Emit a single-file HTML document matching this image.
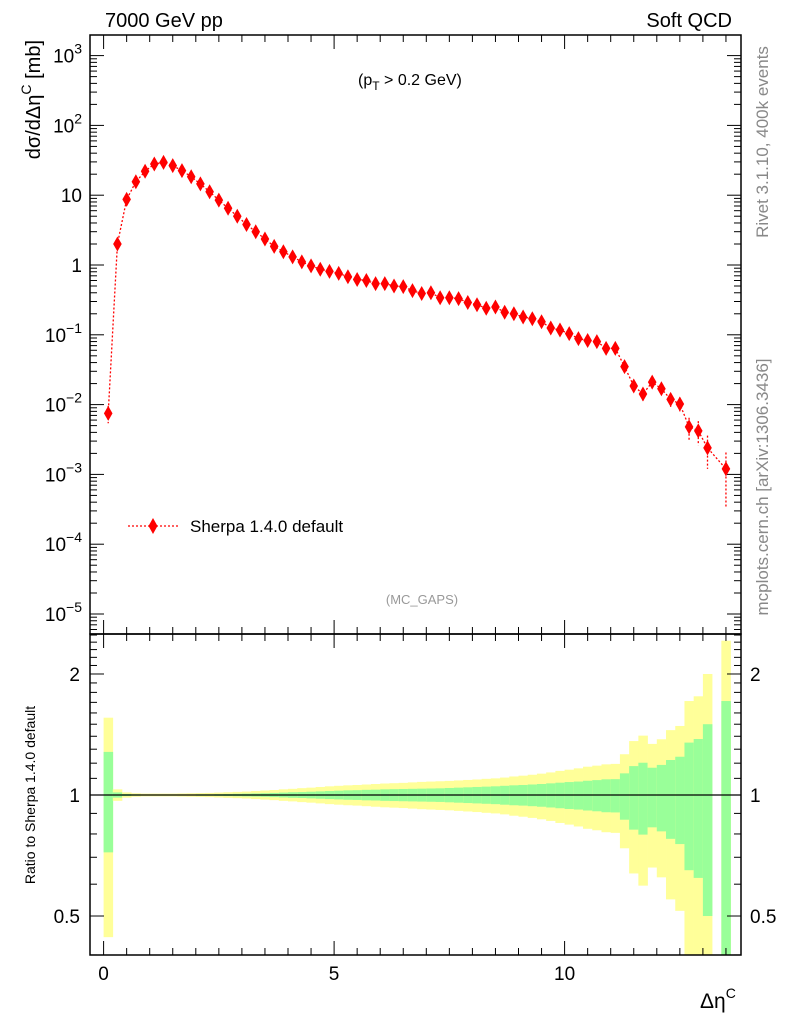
<!DOCTYPE html>
<html><head><meta charset="utf-8"><style>
body{margin:0;background:#fff;}
svg{display:block;font-family:"Liberation Sans",sans-serif;}
</style></head><body>
<svg id="c" width="786" height="1024" viewBox="0 0 786 1024"></svg>
<script>
const centers = [0.1,0.3,0.5,0.7,0.9,1.1,1.3,1.5,1.7,1.9,2.1,2.3,2.5,2.7,2.9,3.1,3.3,3.5,3.7,3.9,4.1,4.3,4.5,4.7,4.9,5.1,5.3,5.5,5.7,5.9,6.1,6.3,6.5,6.7,6.9,7.1,7.3,7.5,7.7,7.9,8.1,8.3,8.5,8.7,8.9,9.1,9.3,9.5,9.7,9.9,10.1,10.3,10.5,10.7,10.9,11.1,11.3,11.5,11.7,11.9,12.1,12.3,12.5,12.7,12.9,13.1,13.3,13.5];
const sherpaValues = [0.0075,2.0,8.7,15.6,22,28,29.5,26.5,22.5,18.4,14.5,11.2,8.5,6.5,5.0,3.8,3.0,2.36,1.85,1.55,1.31,1.11,0.97,0.87,0.81,0.76,0.68,0.62,0.60,0.54,0.54,0.50,0.49,0.43,0.39,0.40,0.34,0.34,0.33,0.29,0.27,0.24,0.25,0.21,0.20,0.18,0.17,0.154,0.125,0.117,0.104,0.088,0.083,0.080,0.064,0.064,0.035,0.0185,0.0142,0.021,0.0169,0.0119,0.0102,0.0048,0.0042,0.0024,null,0.0012];
const statRelErr = [0.28,0.015,0.006,0.004,0.003,0.003,0.003,0.003,0.003,0.003,0.004,0.004,0.005,0.006,0.007,0.008,0.009,0.010,0.012,0.014,0.016,0.017,0.019,0.021,0.023,0.025,0.027,0.028,0.030,0.031,0.033,0.034,0.035,0.036,0.037,0.038,0.039,0.041,0.043,0.045,0.047,0.049,0.051,0.054,0.057,0.059,0.062,0.065,0.069,0.073,0.077,0.080,0.085,0.089,0.094,0.095,0.132,0.18,0.203,0.169,0.188,0.222,0.245,0.35,0.378,0.5,null,0.713];
const totRelErr = [0.557,0.033,0.015,0.010,0.008,0.008,0.008,0.008,0.009,0.010,0.011,0.012,0.014,0.016,0.018,0.020,0.023,0.026,0.029,0.033,0.036,0.040,0.043,0.047,0.051,0.054,0.057,0.059,0.062,0.065,0.068,0.070,0.072,0.075,0.078,0.080,0.082,0.084,0.087,0.090,0.093,0.097,0.100,0.105,0.112,0.117,0.123,0.130,0.138,0.148,0.156,0.165,0.176,0.183,0.192,0.195,0.263,0.362,0.405,0.34,0.376,0.45,0.485,0.713,0.76,1.0,null,1.42];
const xTicks = [0,5,10];
const yTickExps = [-5,-4,-3,-2,-1,0,1,2,3];
const ratioTicks = [0.5,1,2];

const svg=document.getElementById('c');
const NS='http://www.w3.org/2000/svg';
function mk(tag,attrs,parent){const e=document.createElementNS(NS,tag);for(const k in attrs)e.setAttribute(k,attrs[k]);(parent||svg).appendChild(e);return e;}
const L=90,R=741,T=35,M=634,B=955;
const x=v=>103.6+46.1*v;
const y=v=>265-69.8*Math.log10(v);
const yr=r=>795-402*Math.log10(r);
const clampR=v=>Math.max(M,Math.min(B,v));
const half=0.1;

const gBands=mk('g',{});


centers.forEach((c,i)=>{
  if(totRelErr[i]==null)return;
  const x0=x(c-half),x1=x(c+half);
  const t=totRelErr[i],s=statRelErr[i];
  const ytop=clampR(yr(1+t)),ybot=(1-t)>0?clampR(yr(1-t)):B;
  const r1=mk('rect',{x:x0,y:ytop,width:x1-x0+0.3,height:ybot-ytop,fill:'#ffff99'},gBands);
  
  
  const stop=clampR(yr(1+s)),sbot=(1-s)>0?clampR(yr(1-s)):B;
  const r2=mk('rect',{x:x0,y:stop,width:x1-x0+0.3,height:sbot-stop,fill:'#99ff99'},gBands);
  
  
});
const ref=mk('line',{x1:L,x2:R,y1:yr(1),y2:yr(1),stroke:'#000','stroke-width':1.2});



[[T,M,'main-plot-frame'],[M,B,'ratio-plot-frame']].forEach(([a,b,n])=>{
  const f=mk('rect',{x:L,y:a,width:R-L,height:b-a,fill:'none',stroke:'#000','stroke-width':1.5});
  
});

const gx=mk('g',{stroke:'#000','stroke-width':1});

for(let v=0;v<=13.5;v+=0.5){
  const big=(v%5===0), len=big?14:7;
  [[T,1],[M,-1],[M,1],[B,-1]].forEach(([yy,d])=>mk('line',{x1:x(v),x2:x(v),y1:yy,y2:yy+d*len},gx));
}
xTicks.forEach(v=>{const t=mk('text',{x:x(v),y:980,'font-size':19,'text-anchor':'middle'});t.textContent=v;
  });

const gy=mk('g',{stroke:'#000','stroke-width':1});

for(let e=-6;e<=3;e++){for(let k=1;k<10;k++){const v=k*Math.pow(10,e);const yy=y(v);if(yy<T||yy>M)continue;
  const len=k===1?14:7;mk('line',{x1:L,x2:L+len,y1:yy,y2:yy},gy);mk('line',{x1:R,x2:R-len,y1:yy,y2:yy},gy);}}
yTickExps.forEach(e=>{
  const t=mk('text',{x:82,y:y(Math.pow(10,e))+7,'font-size':19,'text-anchor':'end'});
  
  if(e===0)t.textContent='1';else if(e===1)t.textContent='10';
  else{t.textContent='10';const s=mk('tspan',{dy:-9,'font-size':14},t);s.textContent=(e<0?'\u2212':'')+Math.abs(e);}
});

for(let v=0.4;v<=2.51;v+=0.1){const yy=yr(v);if(yy<M||yy>B)continue;const big=ratioTicks.some(r=>Math.abs(r-v)<1e-6);const len=big?14:7;
  mk('line',{x1:L,x2:L+len,y1:yy,y2:yy},gy);mk('line',{x1:R,x2:R-len,y1:yy,y2:yy},gy);}
ratioTicks.forEach(v=>{
  const t1=mk('text',{x:80,y:yr(v)+7,'font-size':19,'text-anchor':'end'});t1.textContent=v;
  
  const t2=mk('text',{x:750,y:yr(v)+7,'font-size':19,'text-anchor':'start'});t2.textContent=v;
  
});

const gs=mk('g',{});

let pts=[];centers.forEach((c,i)=>{if(sherpaValues[i]!=null)pts.push(x(c)+','+y(sherpaValues[i]));});
const pl=mk('polyline',{points:pts.join(' '),fill:'none',stroke:'#ff0000','stroke-width':1.3,'stroke-dasharray':'2,2'},gs);

centers.forEach((c,i)=>{
  const v=sherpaValues[i];if(v==null)return;
  const cx=x(c),cy=y(v),s=statRelErr[i];
  const ylo=(1-s)>0?y(v*(1-s)):M, yhi=y(v*(1+s));
  if(ylo-yhi>10){const eb=mk('line',{x1:cx,x2:cx,y1:yhi,y2:Math.min(ylo,M),stroke:'#ff0000','stroke-width':1.3,'stroke-dasharray':'2,2'},gs);
    }
  const d=mk('polygon',{points:`${cx},${cy-7.5} ${cx+4.3},${cy} ${cx},${cy+7.5} ${cx-4.3},${cy}`,fill:'#ff0000'},gs);
  
});

const lg=mk('g',{});

mk('line',{x1:128,x2:180,y1:526,y2:526,stroke:'#ff0000','stroke-width':1.3,'stroke-dasharray':'2,2'},lg);
mk('polygon',{points:'153,518 157.5,526 153,534 148.5,526',fill:'#ff0000'},lg);
const lt=mk('text',{x:190,y:532,'font-size':17},lg);lt.textContent='Sherpa 1.4.0 default';

function txt(s,a,name){const t=mk('text',a);t.textContent=s;return t;}
txt('7000 GeV pp',{x:105,y:27,'font-size':20},'energy-label');
txt('Soft QCD',{x:732,y:27,'font-size':20,'text-anchor':'end'},'process-label');
txt('(MC_GAPS)',{x:422,y:604,'font-size':13,fill:'#999','text-anchor':'middle'},'analysis-label');
const pt=txt('(p',{x:358,y:85,'font-size':16},'cut-label');
const sub=mk('tspan',{dy:5,'font-size':12},pt);sub.textContent='T';
const rest=mk('tspan',{dy:-5},pt);rest.textContent=' > 0.2 GeV)';
txt('Rivet 3.1.10,  400k events',{x:0,y:0,'font-size':17,fill:'#888','text-anchor':'middle',transform:'translate(768,142) rotate(-90)'},'rivet-version-label');
txt('mcplots.cern.ch [arXiv:1306.3436]',{x:0,y:0,'font-size':17,fill:'#888','text-anchor':'middle',transform:'translate(768,487) rotate(-90)'},'mcplots-label');
const yt=txt('d\u03c3/d\u0394\u03b7',{x:0,y:0,'font-size':20,'text-anchor':'end',transform:'translate(40,40) rotate(-90)'},'y-axis-title');
const ys=mk('tspan',{dy:-9,'font-size':14},yt);ys.textContent='C';
const ys2=mk('tspan',{dy:9},yt);ys2.textContent=' [mb]';
txt('Ratio to Sherpa 1.4.0 default',{x:0,y:0,'font-size':14,'text-anchor':'middle',transform:'translate(35,795) rotate(-90)'},'ratio-axis-title');
const xt=txt('\u0394\u03b7',{x:700,y:1008,'font-size':21},'x-axis-title');
const xs=mk('tspan',{dy:-10,'font-size':14},xt);xs.textContent='C';
</script>
</body></html>
